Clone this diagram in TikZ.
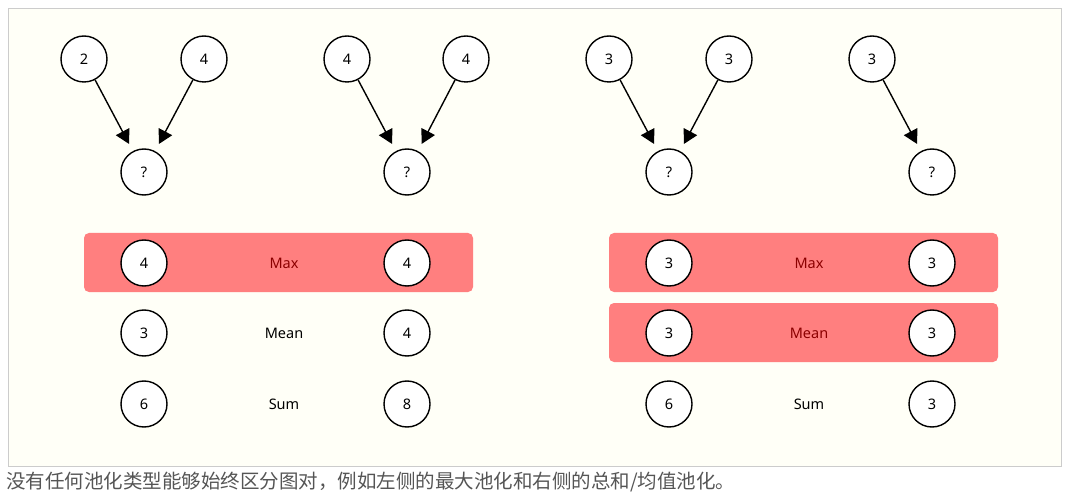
\documentclass[tikz,border=0pt]{standalone}
\usepackage{fontspec}
\setmainfont{Noto Sans}
\newfontfamily\cjk{Noto Sans CJK SC}
\usetikzlibrary{arrows.meta}
\definecolor{bgc}{HTML}{FFFFF7}
\definecolor{framec}{HTML}{CCCCCC}
\definecolor{hlc}{HTML}{FF7F7F}
\definecolor{hltext}{HTML}{8B0000}
\definecolor{capc}{HTML}{555555}
\tikzset{
  val/.style={circle, draw=black, line width=1.4pt, fill=white, minimum size=46pt, inner sep=0pt, font=\fontsize{14.5}{16}\selectfont},
  lab/.style={font=\fontsize{14.5}{16}\selectfont, inner sep=0pt},
  hllab/.style={lab, text=hltext},
  hlbox/.style={fill=hlc, rounded corners=5pt, draw=none},
  arr/.style={line width=1.4pt, -{Triangle[length=14pt,width=15pt]}, shorten >=8pt}
}
\begin{document}
\begin{tikzpicture}[x=1pt,y=-1pt]
\useasboundingbox (0,0) rectangle (1065,494);
\draw[fill=bgc, draw=framec, line width=0.8pt] (8,8) rectangle (1061,466);
% highlight boxes
\fill[hlbox] (84,233) rectangle (473,292);
\fill[hlbox] (609,233) rectangle (998,292);
\fill[hlbox] (609,303) rectangle (998,362);
% graph 1
\node[val] (a1) at (84,59) {2};
\node[val] (a2) at (204,59) {4};
\node[val] (aq) at (144,172) {?};
\draw[arr] (a1) -- (aq);
\draw[arr] (a2) -- (aq);
% graph 2
\node[val] (b1) at (347,59) {4};
\node[val] (b2) at (466,59) {4};
\node[val] (bq) at (407,172) {?};
\draw[arr] (b1) -- (bq);
\draw[arr] (b2) -- (bq);
% graph 3
\node[val] (c1) at (609,59) {3};
\node[val] (c2) at (729,59) {3};
\node[val] (cq) at (669,172) {?};
\draw[arr] (c1) -- (cq);
\draw[arr] (c2) -- (cq);
% graph 4
\node[val] (d1) at (872,59) {3};
\node[val] (dq) at (932,172) {?};
\draw[arr] (d1) -- (dq);
% left table
\node[val] (lmax1) at (144,263) {4};
\node[hllab] (lmax) at (284,263) {Max};
\node[val] (lmax2) at (407,263) {4};
\node[val] (lmean1) at (144,333) {3};
\node[lab] (lmean) at (284,333) {Mean};
\node[val] (lmean2) at (407,333) {4};
\node[val] (lsum1) at (144,404) {6};
\node[lab] (lsum) at (284,404) {Sum};
\node[val] (lsum2) at (407,404) {8};
% right table
\node[val] (rmax1) at (669,263) {3};
\node[hllab] (rmax) at (809,263) {Max};
\node[val] (rmax2) at (932,263) {3};
\node[val] (rmean1) at (669,333) {3};
\node[hllab] (rmean) at (809,333) {Mean};
\node[val] (rmean2) at (932,333) {3};
\node[val] (rsum1) at (669,404) {6};
\node[lab] (rsum) at (809,404) {Sum};
\node[val] (rsum2) at (932,404) {3};
% caption
\node[anchor=west, inner sep=0pt, text=capc, font=\cjk\fontsize{19.5}{22}\selectfont] (cap) at (6,482) {没有任何池化类型能够始终区分图对，例如左侧的最大池化和右侧的总和/均值池化。};
\end{tikzpicture}
\end{document}
